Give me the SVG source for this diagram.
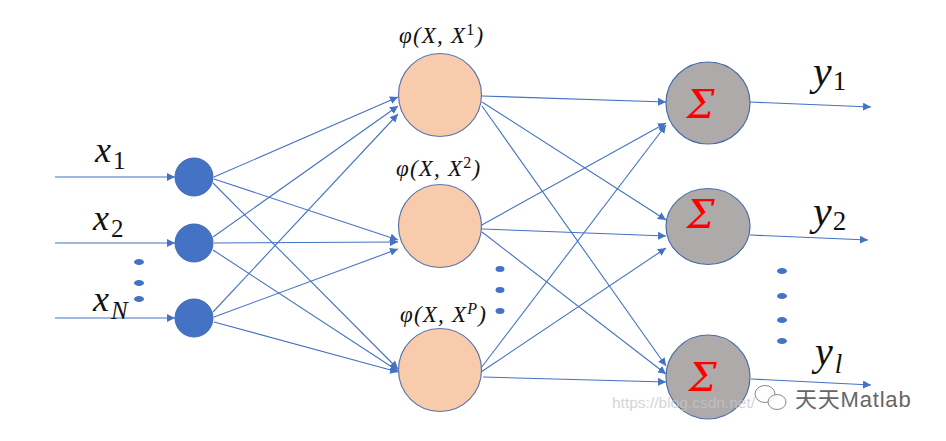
<svg xmlns="http://www.w3.org/2000/svg" width="946" height="441" viewBox="0 0 946 441">
<style>
.e{stroke:#4472c4;stroke-width:1.1;fill:none;marker-end:url(#a)}
.i{fill:#4472c4;stroke:#3f68b0;stroke-width:1}
.m{fill:#f8cbad;stroke:#5b76a8;stroke-width:1.2}
.o{fill:#aeaaaa;stroke:#4a6ea8;stroke-width:1.2}
.d{fill:#4472c4}
.t{font-family:"Liberation Serif",serif;font-style:italic;fill:#111}
.n{font-family:"Liberation Serif",serif;font-style:normal}
.s{font-family:"DejaVu Serif","Liberation Serif",serif;font-style:italic;font-size:39px;fill:#f00}
.p{font-size:23px;letter-spacing:1.2px}
.wm{font-family:"Liberation Sans",sans-serif;fill:#c8c8c8}
</style>
<defs><marker id="a" markerUnits="userSpaceOnUse" markerWidth="9" markerHeight="8" refX="8" refY="4" orient="auto"><path d="M0 0L8 4L0 8Z" fill="#4472c4"/></marker></defs>
<rect width="946" height="441" fill="#fff"/>
<g id="connectors">
<path class="e" d="M55 177H175"/><path class="e" d="M55 243H175"/><path class="e" d="M55 318H175"/>
<path class="e" d="M214 177L398 97"/><path class="e" d="M214 179L398 240"/><path class="e" d="M213 183L398 369"/>
<path class="e" d="M213 237L398 106"/><path class="e" d="M214 243L398 242"/><path class="e" d="M213 250L398 371"/>
<path class="e" d="M213 312L398 114"/><path class="e" d="M214 317L398 249"/><path class="e" d="M214 322L398 372"/>
<path class="e" d="M482 96L666 102"/><path class="e" d="M482 102L666 220"/><path class="e" d="M482 106L666 366"/>
<path class="e" d="M480 226L666 123"/><path class="e" d="M482 229L666 236"/><path class="e" d="M482 232L666 374"/>
<path class="e" d="M481 368L666 125"/><path class="e" d="M481 372L666 248"/><path class="e" d="M483 377L666 382"/>
<path class="e" d="M750 102L871 107"/><path class="e" d="M750 235L868 240"/><path class="e" d="M751 379L871 385"/>
</g>
<g id="x1"><circle class="i" cx="194" cy="177" r="19"/><text class="t" x="95" y="162" font-size="36">x<tspan class="n" font-size="25" dx="2" dy="7">1</tspan></text></g>
<g id="x2"><circle class="i" cx="194" cy="243" r="19"/><text class="t" x="93" y="230" font-size="36">x<tspan class="n" font-size="25" dx="2" dy="7">2</tspan></text></g>
<g id="xN"><circle class="i" cx="194" cy="318" r="19"/><text class="t" x="93" y="311" font-size="36">x<tspan font-size="25" dx="2" dy="8">N</tspan></text></g>
<g id="dots-in"><ellipse class="d" cx="139" cy="262" rx="5" ry="3"/><ellipse class="d" cx="139" cy="283" rx="5" ry="3"/><ellipse class="d" cx="139" cy="299" rx="5" ry="3"/></g>
<g id="h1"><circle class="m" cx="440" cy="95" r="41.5"/><text class="t p" x="399" y="43">φ(X, X<tspan class="n" font-size="16" dy="-8">1</tspan><tspan dy="8">)</tspan></text></g>
<g id="h2"><circle class="m" cx="440" cy="226" r="41.5"/><text class="t p" x="396" y="176">φ(X, X<tspan class="n" font-size="16" dy="-8">2</tspan><tspan dy="8">)</tspan></text></g>
<g id="hP"><circle class="m" cx="440" cy="370" r="41.5"/><text class="t p" x="400" y="322">φ(X, X<tspan font-size="16" dy="-8">P</tspan><tspan dy="8">)</tspan></text></g>
<g id="dots-mid"><ellipse class="d" cx="500" cy="269" rx="4.5" ry="3"/><ellipse class="d" cx="500" cy="290" rx="4.5" ry="3"/><ellipse class="d" cx="500" cy="311" rx="4.5" ry="3"/></g>
<g id="s1"><ellipse class="o" cx="708" cy="103" rx="42" ry="41"/><text class="s" x="687" y="118">Σ</text></g>
<g id="s2"><ellipse class="o" cx="708" cy="226.500" rx="42" ry="38"/><text class="s" x="687" y="228">Σ</text></g>
<g id="s3"><ellipse class="o" cx="708" cy="377" rx="42" ry="42"/><text class="s" x="689" y="391">Σ</text></g>
<g id="dots-out"><ellipse class="d" cx="782" cy="271" rx="5" ry="3"/><ellipse class="d" cx="782" cy="296" rx="5" ry="3"/><ellipse class="d" cx="782" cy="320" rx="5" ry="3"/><ellipse class="d" cx="782" cy="341" rx="5" ry="3"/></g>
<g id="y1"><text class="t" x="813" y="85" font-size="42">y<tspan class="n" font-size="27" dx="1" dy="5">1</tspan></text></g>
<g id="y2"><text class="t" x="813" y="225" font-size="42">y<tspan class="n" font-size="27" dx="1" dy="5">2</tspan></text></g>
<g id="yl"><text class="t" x="815" y="365" font-size="40">y<tspan font-size="27" dx="2" dy="8">l</tspan></text></g>
<g id="watermark">
<text class="wm" x="612" y="408" font-size="15.500" opacity=".75">https://blog.csdn.net/</text>
<ellipse cx="765" cy="394" rx="10" ry="8.500" fill="#fff" fill-opacity=".75" stroke="#888" stroke-width="1"/>
<ellipse cx="777" cy="402" rx="9" ry="7.500" fill="#fff" fill-opacity=".85" stroke="#888" stroke-width="1"/>
<text x="795" y="407" font-size="22" letter-spacing="0.8" fill="#666" style="font-family:'Liberation Sans','Noto Sans CJK SC',sans-serif">天天Matlab</text>
</g>
</svg>
